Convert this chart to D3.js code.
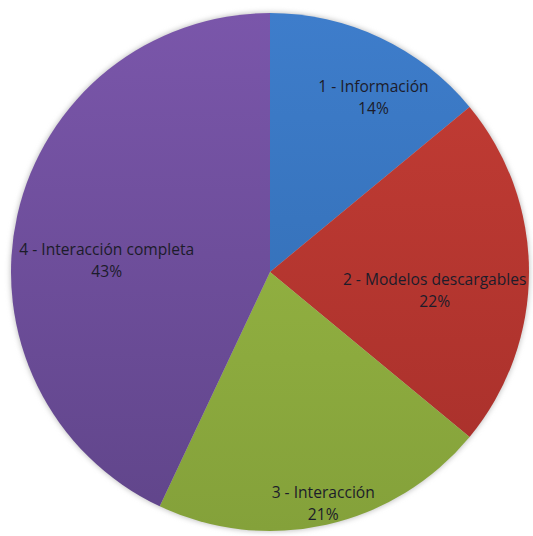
<!DOCTYPE html>
<html>
<head>
<meta charset="utf-8">
<script src="https://cdn.jsdelivr.net/npm/d3@7"></script>
<style>
  body { margin: 0; background: #fff; }
</style>
</head>
<body>
<script>
// data
let Categories = ["1 - Información", "2 - Modelos descargables", "3 - Interacción", "4 - Interacción completa"];
let Values = [14, 22, 21, 43];
let Colors = ["#3e7dcb", "#c43d35", "#9cbc46", "#7a56aa"];
let DarkColors = ["#2f69ad", "#a62f2a", "#84a13a", "#60458a"];

// label placement (radius fraction, angle shift in degrees)
let LabelPos = [[0.78, 5.6], [0.64, 6.6], [0.92, -0.3], [0.632, -8.6]];

let SvgWidth = 533;
let SvgHeight = 536;
let Cx = 270, Cy = 272, Radius = 259;

let Svg = d3.select("body")
    .append("svg")
    .attr("width", SvgWidth)
    .attr("height", SvgHeight);

let Defs = Svg.append("defs");
Colors.forEach(function (c, i) {
    let g = Defs.append("linearGradient")
        .attr("id", "grad" + i)
        .attr("gradientUnits", "userSpaceOnUse")
        .attr("x1", 0).attr("y1", -Radius).attr("x2", 0).attr("y2", Radius);
    g.append("stop").attr("offset", "0%").attr("stop-color", c);
    g.append("stop").attr("offset", "100%").attr("stop-color", DarkColors[i]);
});

Defs.append("filter")
    .attr("id", "halo")
    .attr("x", "-10%").attr("y", "-10%").attr("width", "120%").attr("height", "120%")
    .append("feGaussianBlur")
    .attr("stdDeviation", 2.5);

let ChartGroup = Svg.append("g")
    .attr("transform", `translate(${Cx},${Cy})`);

// soft shadow round the pie
ChartGroup.append("circle")
    .attr("r", Radius + 1)
    .attr("fill", "#c8c8c8")
    .attr("filter", "url(#halo)");

let Pie = d3.pie().sort(null).value(d => d);
let Arcs = Pie(Values);

let Arc = d3.arc().innerRadius(0).outerRadius(Radius);

ChartGroup.selectAll("path")
    .data(Arcs)
    .enter()
    .append("path")
    .attr("d", Arc)
    .attr("fill", (d, i) => `url(#grad${i})`);

Arcs.forEach(function (d, i) {
    let a = (d.startAngle + d.endAngle) / 2 + LabelPos[i][1] * Math.PI / 180;
    let r = LabelPos[i][0] * Radius;
    let x = r * Math.sin(a);
    let y = -r * Math.cos(a);
    let t = ChartGroup.append("text")
        .attr("text-anchor", "middle")
        .attr("font-family", "'Open Sans', sans-serif")
        .attr("font-size", "15.6px")
        .attr("fill", "#1c1c2a")
        .attr("transform", `translate(${x},${y})`);
    t.append("tspan").attr("x", 0).attr("y", -6).text(Categories[i]);
    t.append("tspan").attr("x", 0).attr("y", 16).text(Values[i] + "%");
});
</script>
</body>
</html>
